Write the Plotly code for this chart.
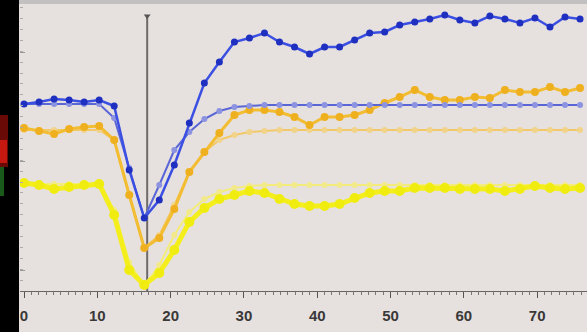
import plotly.graph_objects as go

# ---- data (time axis, ~2.05 units between samples) ----
sample_step = 2.05
n_samples = 38
time = [round(k * sample_step, 2) for k in range(n_samples)]

blue_data = [187, 189, 192, 191, 189, 191, 185, 121, 73, 91, 126, 168, 208, 229, 249, 253, 258, 249, 244,
             237, 244, 244, 251, 258, 259, 266, 269, 272, 276, 271, 268, 275, 272, 268, 273, 264, 274, 272]
blue_fit = [187, 187, 187, 187, 187, 187, 173, 123, 73, 106, 141, 159, 172, 180, 184, 185,
            186, 186, 186, 186, 186, 186, 186, 186, 186, 186, 186, 186, 186, 186, 186, 186, 186, 186, 186, 186, 186, 186]

orange_data = [163, 160, 157, 162, 164, 165, 151, 96, 43, 53, 82, 119, 139, 158, 176, 181, 181, 179, 174,
               166, 174, 174, 176, 181, 188, 194, 201, 194, 191, 191, 194, 193, 201, 199, 199, 204, 199, 203]
orange_fit = [161, 161, 161, 161, 161, 161, 151, 96, 43, 56, 86, 119, 139, 151, 156, 159, 160,
              161, 161, 161, 161, 161, 161, 161, 161, 161, 161, 161, 161, 161, 161, 161, 161, 161, 161, 161, 161, 161]

yellow_data = [108, 106, 102, 104, 106, 107, 76, 21, 6, 18, 41, 69, 83, 92, 96, 100, 98, 92, 87,
               85, 85, 87, 93, 98, 100, 100, 103, 103, 103, 102, 102, 102, 100, 102, 105, 103, 102, 103]
yellow_fit = [107, 107, 107, 107, 107, 107, 81, 29, 5, 26, 56, 79, 92, 99, 103, 105,
              106, 106, 106, 106, 106, 106, 106, 106, 106, 106, 106, 106, 106, 106, 106, 106, 106, 106, 106, 106, 106, 106]

x_ticks = [0, 10, 20, 30, 40, 50, 60, 70]
x_tick_labels = ["0", "10", "20", "30", "40", "50", "60", "70"]
event_time = 16.8
event_top = 275

BG = "#e6e1df"

fig = go.Figure()

# yellow
fig.add_trace(go.Scatter(x=time, y=yellow_fit, mode="lines+markers",
                         line=dict(color="#f3ec7a", width=2),
                         marker=dict(color="#f2e98a", size=6)))
fig.add_trace(go.Scatter(x=time, y=yellow_data, mode="lines+markers",
                         line=dict(color="#f4ef1c", width=5),
                         marker=dict(color="#f0ec10", size=10)))
# orange
fig.add_trace(go.Scatter(x=time, y=orange_fit, mode="lines+markers",
                         line=dict(color="#f2c868", width=2),
                         marker=dict(color="#f1d38a", size=6)))
fig.add_trace(go.Scatter(x=time, y=orange_data, mode="lines+markers",
                         line=dict(color="#f3bd33", width=3),
                         marker=dict(color="#efb020", size=8)))
# blue
fig.add_trace(go.Scatter(x=time, y=blue_fit, mode="lines+markers",
                         line=dict(color="#5a66d6", width=2),
                         marker=dict(color="#8c93e0", size=6)))
fig.add_trace(go.Scatter(x=time, y=blue_data, mode="lines+markers",
                         line=dict(color="#3b4fe2", width=2.5),
                         marker=dict(color="#1f2fbf", size=7)))

# event line
fig.add_shape(type="line", xref="x", yref="y", x0=event_time, x1=event_time, y0=0, y1=event_top,
              line=dict(color="#6e6a6a", width=2), layer="below")
fig.add_trace(go.Scatter(x=[event_time], y=[event_top], mode="markers",
                         marker=dict(color="#555", size=6, symbol="triangle-down")))

W, H, L, T, B = 587, 332, 20, 4, 41
pw, ph = W - L, H - T - B


def px_x(px):
    return (px - L) / pw


def px_y(py):
    return (H - B - py) / ph


# left black strip, top gray strip, coloured fragments
fig.add_shape(type="rect", xref="paper", yref="paper", x0=px_x(0), x1=px_x(19), y0=px_y(H), y1=px_y(0),
              fillcolor="#000", line_width=0)
fig.add_shape(type="rect", xref="paper", yref="paper", x0=px_x(0), x1=px_x(8), y0=px_y(167), y1=px_y(115),
              fillcolor="#6a0a06", line_width=0)
fig.add_shape(type="rect", xref="paper", yref="paper", x0=px_x(0), x1=px_x(7), y0=px_y(163), y1=px_y(140),
              fillcolor="#c41810", line_width=0)
fig.add_shape(type="rect", xref="paper", yref="paper", x0=px_x(0), x1=px_x(4), y0=px_y(196), y1=px_y(167),
              fillcolor="#1a5a1a", line_width=0)
fig.add_shape(type="rect", xref="paper", yref="paper", x0=px_x(19), x1=px_x(W), y0=px_y(4), y1=px_y(0),
              fillcolor="#c2c0c0", line_width=0)

fig.update_layout(
    width=W, height=H,
    margin=dict(l=L, r=0, t=T, b=B),
    paper_bgcolor=BG, plot_bgcolor=BG,
    showlegend=False,
    hovermode=False,
    xaxis=dict(range=[-0.55, 76.8], showgrid=False, zeroline=False,
               showline=True, linecolor="#6a6666", linewidth=1,
               tickmode="array", tickvals=x_ticks, ticktext=x_tick_labels,
               ticks="outside", ticklen=6, tickcolor="#555", tickwidth=1,
               minor=dict(dtick=1, ticks="outside", ticklen=3, tickcolor="#777"),
               tickfont=dict(family="Liberation Sans", size=15, color="#3a3838", weight="bold"),
               ticklabelstandoff=5),
    yaxis=dict(range=[0, 287], showgrid=False, zeroline=False, showline=False,
               showticklabels=False, tick0=130, dtick=109, ticks="inside", ticklen=5,
               tickcolor="#999",
               minor=dict(dtick=10.9, ticks="inside", ticklen=3, tickcolor="#aaa")),
)

fig.write_html("out.html", config={"displayModeBar": False, "staticPlot": True},
               post_script="document.body.style.margin='0';document.body.style.overflow='hidden';")
